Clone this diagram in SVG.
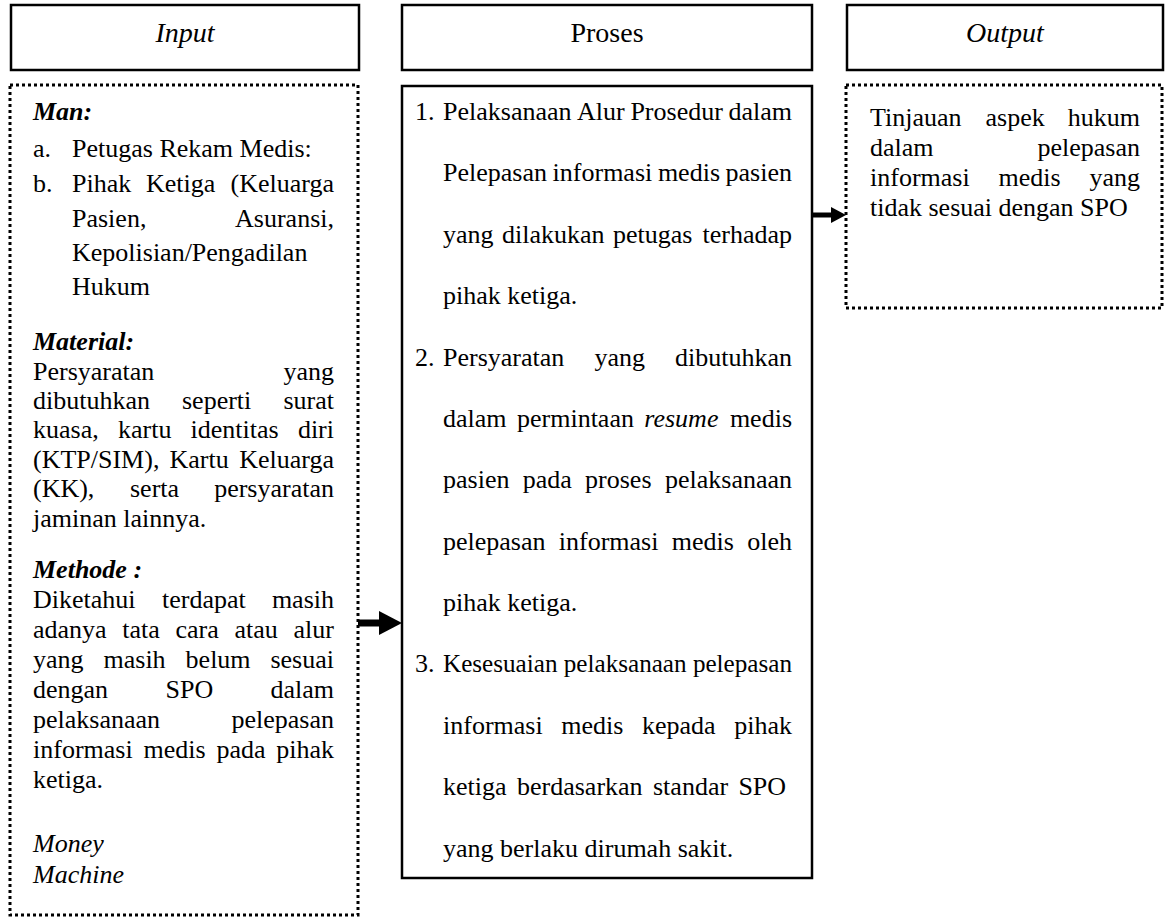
<svg xmlns="http://www.w3.org/2000/svg" width="1168" height="917" viewBox="0 0 1168 917">
<style>
text{font-family:"Liberation Serif","Times New Roman",serif;font-size:26px;fill:#000}
.h{font-size:28px;text-anchor:middle}
.i{font-style:italic}
.b{font-weight:bold;font-style:italic}
.r{text-anchor:end}
.box{fill:#fff;stroke:#000;stroke-width:2.5}
.dot{fill:#fff;stroke:#000;stroke-width:3;stroke-dasharray:3 3}
</style>
<rect width="1168" height="917" fill="#fff"/>
<g id="input-header">
<rect class="box" x="11" y="5" width="348" height="65"/>
<text class="h i" x="185" y="42">Input</text>
</g>
<g id="proses-header">
<rect class="box" x="402" y="5" width="410" height="65"/>
<text class="h" x="607" y="42">Proses</text>
</g>
<g id="output-header">
<rect class="box" x="847" y="5" width="316" height="65"/>
<text class="h i" x="1005" y="42">Output</text>
</g>
<g id="input-box">
<rect class="dot" x="10" y="85" width="348" height="830"/>
<text class="b" x="33" y="120">Man:</text>
<text x="33" y="157">a.</text><text x="72" y="157">Petugas Rekam Medis:</text>
<text x="33" y="192">b.</text><text x="72" y="192">Pihak</text><text x="146" y="192">Ketiga</text><text class="r" x="334" y="192">(Keluarga</text>
<text x="72" y="227">Pasien,</text><text class="r" x="334" y="227">Asuransi,</text>
<text x="72" y="261">Kepolisian/Pengadilan</text>
<text x="72" y="295">Hukum</text>
<text class="b" x="33" y="350">Material:</text>
<text x="33" y="380">Persyaratan</text><text class="r" x="334" y="380">yang</text>
<text x="33" y="409">dibutuhkan</text><text x="182" y="409">seperti</text><text class="r" x="334" y="409">surat</text>
<text x="33" y="438">kuasa,</text><text x="118" y="438">kartu</text><text x="190.5" y="438">identitas</text><text class="r" x="334" y="438">diri</text>
<text x="33" y="468">(KTP/SIM),</text><text x="169.5" y="468">Kartu</text><text class="r" x="334" y="468">Keluarga</text>
<text x="33" y="497">(KK),</text><text x="130" y="497">serta</text><text class="r" x="334" y="497">persyaratan</text>
<text x="33" y="527">jaminan lainnya.</text>
<text class="b" x="33" y="578">Methode :</text>
<text x="33" y="608">Diketahui</text><text x="162" y="608">terdapat</text><text class="r" x="334" y="608">masih</text>
<text x="33" y="638">adanya</text><text x="122.3" y="638">tata</text><text x="175.5" y="638">cara</text><text x="234.5" y="638">atau</text><text class="r" x="334" y="638">alur</text>
<text x="33" y="668">yang</text><text x="103.5" y="668">masih</text><text x="185.6" y="668">belum</text><text class="r" x="334" y="668">sesuai</text>
<text x="33" y="698">dengan</text><text x="165.5" y="698">SPO</text><text class="r" x="334" y="698">dalam</text>
<text x="33" y="728">pelaksanaan</text><text class="r" x="334" y="728">pelepasan</text>
<text x="33" y="758">informasi</text><text x="143.5" y="758">medis</text><text x="216.4" y="758">pada</text><text class="r" x="334" y="758">pihak</text>
<text x="33" y="788">ketiga.</text>
<text class="i" x="33" y="852">Money</text>
<text class="i" x="33" y="883">Machine</text>
</g>
<g id="proses-box">
<rect class="box" x="402" y="86" width="410" height="792"/>
<text x="415" y="120">1.</text><text x="443" y="120">Pelaksanaan</text><text x="577" y="120">Alur</text><text x="630.4" y="120">Prosedur</text><text class="r" x="792" y="120">dalam</text>
<text x="443" y="181">Pelepasan</text><text x="552.6" y="181">informasi</text><text x="657.9" y="181">medis</text><text class="r" x="792" y="181">pasien</text>
<text x="443" y="243">yang</text><text x="502" y="243">dilakukan</text><text x="613" y="243">petugas</text><text class="r" x="792" y="243">terhadap</text>
<text x="443" y="304">pihak ketiga.</text>
<text x="415" y="366">2.</text><text x="443" y="366">Persyaratan</text><text x="594.4" y="366">yang</text><text class="r" x="792" y="366">dibutuhkan</text>
<text x="443" y="427">dalam</text><text x="517" y="427">permintaan</text><text class="i" x="644.3" y="427">resume</text><text class="r" x="792" y="427">medis</text>
<text x="443" y="488">pasien</text><text x="522.7" y="488">pada</text><text x="585.1" y="488">proses</text><text class="r" x="792" y="488">pelaksanaan</text>
<text x="443" y="550">pelepasan</text><text x="558.8" y="550">informasi</text><text x="671.8" y="550">medis</text><text class="r" x="792" y="550">oleh</text>
<text x="443" y="611">pihak ketiga.</text>
<text x="415" y="672">3.</text><text x="443" y="672" textLength="349" lengthAdjust="spacingAndGlyphs">Kesesuaian pelaksanaan pelepasan</text>
<text x="443" y="734">informasi</text><text x="561.3" y="734">medis</text><text x="642" y="734">kepada</text><text class="r" x="792" y="734">pihak</text>
<text x="443" y="795">ketiga</text><text x="517" y="795">berdasarkan</text><text x="653" y="795">standar</text><text x="738.4" y="795">SPO</text>
<text x="443" y="857">yang berlaku dirumah sakit.</text>
</g>
<g id="output-box">
<rect class="dot" x="846" y="85" width="316" height="223"/>
<text x="870" y="126">Tinjauan</text><text x="985.5" y="126">aspek</text><text class="r" x="1140" y="126">hukum</text>
<text x="870" y="156">dalam</text><text class="r" x="1140" y="156">pelepasan</text>
<text x="870" y="186">informasi</text><text x="998.6" y="186">medis</text><text class="r" x="1140" y="186">yang</text>
<text x="870" y="216">tidak sesuai dengan SPO</text>
</g>
<g id="connectors">
<line x1="358" y1="623" x2="381" y2="623" stroke="#000" stroke-width="7"/>
<polygon points="379,611 402,623 379,635" fill="#000"/>
<line x1="812" y1="215" x2="833" y2="215" stroke="#000" stroke-width="5"/>
<polygon points="831,207 846,215 831,223" fill="#000"/>
</g>
</svg>
